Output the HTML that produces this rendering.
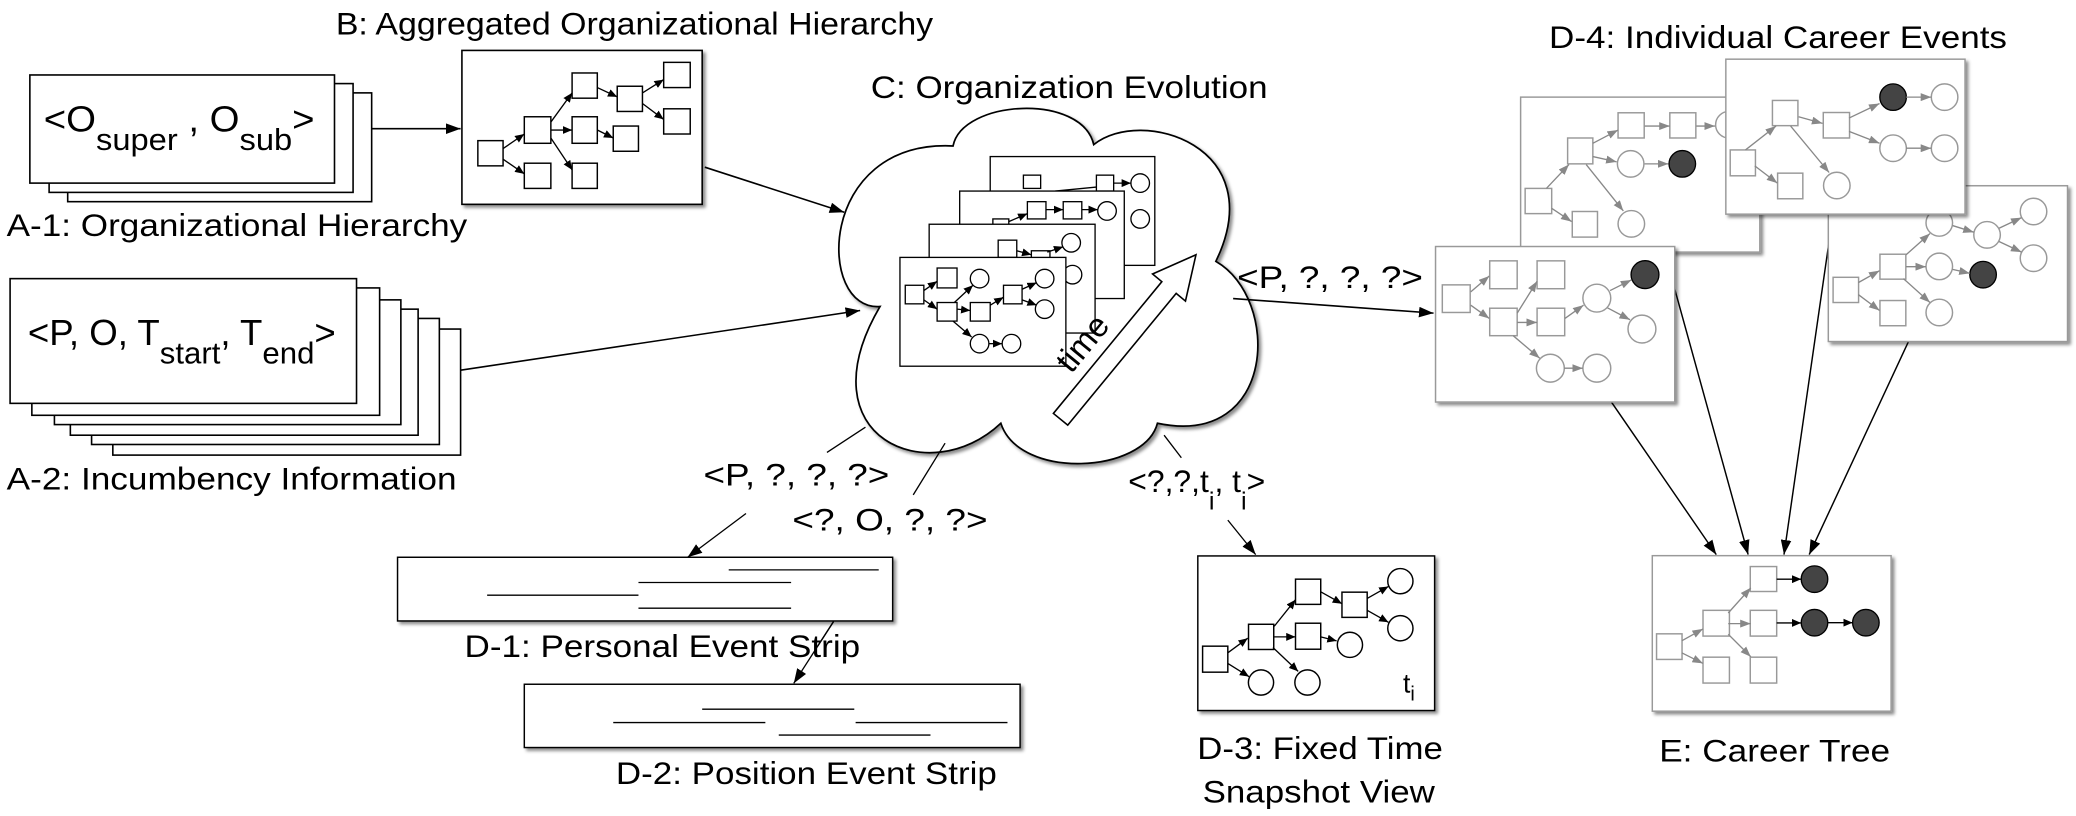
<!DOCTYPE html>
<html><head><meta charset="utf-8"><style>
html,body{margin:0;padding:0;background:#fff;}
svg{display:block;}
text{font-family:"Liberation Sans",Arial,sans-serif;fill:#000;}
</style></head><body>
<svg width="2076" height="816" viewBox="0 0 1564 615" preserveAspectRatio="none" xmlns="http://www.w3.org/2000/svg">
<defs>
<marker id="ab" markerUnits="userSpaceOnUse" markerWidth="12" markerHeight="8" refX="11" refY="4" orient="auto"><path d="M0,0 L11,4 L0,8 z" fill="#000"/></marker>
<marker id="as" markerUnits="userSpaceOnUse" markerWidth="7" markerHeight="6" refX="7" refY="3" orient="auto"><path d="M0,0 L7,3 L0,6 z" fill="#000"/></marker>
<marker id="ag" markerUnits="userSpaceOnUse" markerWidth="8" markerHeight="6" refX="8" refY="3" orient="auto"><path d="M0,0 L8,3 L0,6 z" fill="#888"/></marker>
<filter id="sh" x="-10%" y="-10%" width="130%" height="130%"><feDropShadow dx="2" dy="2" stdDeviation="1.2" flood-color="#000" flood-opacity="0.45"/></filter>
</defs>

<text x="253" y="26" font-size="24" textLength="450" lengthAdjust="spacingAndGlyphs">B: Aggregated Organizational Hierarchy</text>
<text x="5" y="178" font-size="24" textLength="347" lengthAdjust="spacingAndGlyphs">A-1: Organizational Hierarchy</text>
<text x="5" y="369" font-size="24" textLength="339" lengthAdjust="spacingAndGlyphs">A-2: Incumbency Information</text>
<text x="656" y="74" font-size="24" textLength="299" lengthAdjust="spacingAndGlyphs">C: Organization Evolution</text>
<text x="1167" y="36" font-size="24" textLength="345" lengthAdjust="spacingAndGlyphs">D-4: Individual Career Events</text>
<text x="932" y="217" font-size="24" textLength="140" lengthAdjust="spacingAndGlyphs">&lt;P, ?, ?, ?&gt;</text>
<text x="530" y="366" font-size="24" textLength="140" lengthAdjust="spacingAndGlyphs">&lt;P, ?, ?, ?&gt;</text>
<text x="597" y="400" font-size="24" textLength="147" lengthAdjust="spacingAndGlyphs">&lt;?, O, ?, ?&gt;</text>
<text x="850" y="371" font-size="24">&lt;?,?,t<tspan font-size="19" dy="13">i</tspan><tspan dy="-13">,</tspan> t<tspan font-size="19" dy="13">i</tspan><tspan dy="-13">&gt;</tspan></text>
<text x="350" y="495" font-size="24" textLength="298" lengthAdjust="spacingAndGlyphs">D-1: Personal Event Strip</text>
<text x="464" y="591" font-size="24" textLength="287" lengthAdjust="spacingAndGlyphs">D-2: Position Event Strip</text>
<text x="902" y="572" font-size="24" textLength="185" lengthAdjust="spacingAndGlyphs">D-3: Fixed Time</text>
<text x="906" y="605" font-size="24" textLength="175" lengthAdjust="spacingAndGlyphs">Snapshot View</text>
<text x="1250" y="574" font-size="24" textLength="174" lengthAdjust="spacingAndGlyphs">E: Career Tree</text>

<g fill="#fff" stroke="#000" stroke-width="1.2">
<rect x="51" y="70" width="229" height="82"/>
<rect x="37" y="63" width="229" height="82"/>
<rect x="22.5" y="56.5" width="229.5" height="81.5"/>
</g>
<text x="33" y="99" font-size="27" textLength="204" lengthAdjust="spacingAndGlyphs">&lt;O<tspan font-size="23" dy="14">super</tspan><tspan dy="-14"> , O</tspan><tspan font-size="23" dy="14">sub</tspan><tspan dy="-14">&gt;</tspan></text>
<line x1="280" y1="97" x2="347" y2="97" stroke="#000" stroke-width="1.2" marker-end="url(#ab)"/>

<g fill="#fff" stroke="#000" stroke-width="1.2">
<rect x="85" y="248" width="262" height="95"/>
<rect x="69" y="240" width="262" height="95"/>
<rect x="53" y="233" width="262" height="95"/>
<rect x="41" y="226" width="261" height="94"/>
<rect x="24" y="217" width="262" height="96"/>
<rect x="7.6" y="210" width="261" height="94"/>
</g>
<text x="21" y="260" font-size="27" textLength="232" lengthAdjust="spacingAndGlyphs">&lt;P, O, T<tspan font-size="23" dy="14">start</tspan><tspan dy="-14">, T</tspan><tspan font-size="23" dy="14">end</tspan><tspan dy="-14">&gt;</tspan></text>
<line x1="347" y1="279" x2="648" y2="234" stroke="#000" stroke-width="1.2" marker-end="url(#ab)"/>

<rect x="348" y="38" width="181" height="116" fill="#fff" stroke="#000" stroke-width="1.2" filter="url(#sh)"/>
<g fill="#fff" stroke="#000" stroke-width="1.1">
<rect x="360" y="106" width="19" height="19"/><rect x="395" y="88" width="20" height="20"/><rect x="395" y="123" width="20" height="19"/>
<rect x="431" y="55" width="19" height="19"/><rect x="431" y="88" width="19" height="20"/><rect x="431" y="123" width="19" height="19"/>
<rect x="465" y="65" width="19" height="19"/><rect x="462" y="95" width="19" height="19"/><rect x="500" y="47" width="20" height="19"/><rect x="500" y="82" width="20" height="19"/>
</g>
<g stroke="#000" stroke-width="1" marker-end="url(#as)">
<line x1="379" y1="112" x2="395" y2="101"/><line x1="379" y1="120" x2="395" y2="131"/>
<line x1="415" y1="92" x2="431" y2="70"/><line x1="415" y1="98" x2="431" y2="98"/><line x1="415" y1="104" x2="431" y2="128"/>
<line x1="450" y1="66" x2="465" y2="73"/><line x1="450" y1="98" x2="462" y2="104"/>
<line x1="484" y1="70" x2="500" y2="60"/><line x1="484" y1="78" x2="500" y2="90"/>
</g>
<line x1="531" y1="126" x2="636" y2="160" stroke="#000" stroke-width="1.2" marker-end="url(#ab)"/>

<path d="M663,231 C615,235 615,105 718,110 C725,75 815,70 824,109 C860,80 958,110 916,197 C965,225 962,338 872,319 C862,357 768,362 754,319 C700,370 605,330 663,231 Z" fill="#fff" stroke="#000" stroke-width="1.3" filter="url(#sh)"/>

<line x1="929" y1="225" x2="1080" y2="236" stroke="#000" stroke-width="1.2" marker-end="url(#ab)"/>
<line x1="652" y1="322" x2="623" y2="341" stroke="#000" stroke-width="1"/>
<line x1="712" y1="334" x2="688" y2="373" stroke="#000" stroke-width="1"/>
<line x1="562" y1="387" x2="518" y2="420" stroke="#000" stroke-width="1" marker-end="url(#ab)"/>
<line x1="877" y1="328" x2="890" y2="345" stroke="#000" stroke-width="1"/>
<line x1="925" y1="392" x2="946" y2="418" stroke="#000" stroke-width="1" marker-end="url(#ab)"/>

<g stroke="#000" stroke-width="1">
<rect x="746" y="118" width="124" height="82" fill="#fff"/>
<rect x="771" y="132" width="13" height="10" fill="#fff"/><rect x="826" y="132" width="13" height="12" fill="#fff"/>
<circle cx="859" cy="138" r="7" fill="#fff"/><circle cx="859" cy="165" r="7" fill="#fff"/>
<line x1="839" y1="138" x2="852" y2="138" marker-end="url(#as)"/><line x1="795" y1="144" x2="826" y2="141"/>

<rect x="723" y="144" width="124" height="81" fill="#fff"/>
<rect x="748" y="165" width="12" height="10" fill="#fff"/>
<rect x="774" y="152" width="14" height="13" fill="#fff"/><rect x="801" y="152" width="14" height="13" fill="#fff"/>
<circle cx="834" cy="159" r="7" fill="#fff"/>
<line x1="760" y1="167" x2="774" y2="161" marker-end="url(#as)"/><line x1="788" y1="158" x2="801" y2="158" marker-end="url(#as)"/><line x1="815" y1="158" x2="827" y2="158" marker-end="url(#as)"/>

<rect x="700" y="169" width="125" height="82" fill="#fff"/>
<rect x="752" y="181" width="14" height="13" fill="#fff"/><rect x="777" y="189" width="14" height="10" fill="#fff"/>
<circle cx="807" cy="183" r="7" fill="#fff"/><circle cx="808" cy="207" r="7" fill="#fff"/>
<line x1="766" y1="189" x2="777" y2="192" marker-end="url(#as)"/><line x1="789" y1="190" x2="801" y2="186" marker-end="url(#as)"/>

<rect x="678" y="194" width="125" height="82" fill="#fff"/>
<rect x="682" y="215" width="14" height="14" fill="#fff"/><rect x="706" y="202" width="15" height="15" fill="#fff"/>
<rect x="706" y="228" width="15" height="14" fill="#fff"/><rect x="731" y="228" width="15" height="14" fill="#fff"/>
<rect x="756" y="215" width="14" height="14" fill="#fff"/>
<circle cx="738" cy="210" r="7" fill="#fff"/><circle cx="787" cy="210" r="7" fill="#fff"/><circle cx="787" cy="233" r="7" fill="#fff"/>
<circle cx="738" cy="259" r="7" fill="#fff"/><circle cx="762" cy="259" r="7" fill="#fff"/>
<g marker-end="url(#as)">
<line x1="696" y1="219" x2="706" y2="212"/><line x1="696" y1="226" x2="706" y2="233"/>
<line x1="721" y1="233" x2="731" y2="234"/><line x1="719" y1="228" x2="733" y2="215"/><line x1="718" y1="242" x2="732" y2="254"/>
<line x1="746" y1="230" x2="756" y2="224"/><line x1="770" y1="218" x2="781" y2="213"/><line x1="770" y1="226" x2="781" y2="230"/>
<line x1="745" y1="259" x2="755" y2="259"/>
</g>
</g>

<polygon points="793.6,311.6 875.3,212.3 868.3,206.5 901,192 893.1,226.9 886.1,221.1 804.4,320.4" fill="#fff" stroke="#000" stroke-width="1.2"/>
<text x="822" y="264" font-size="25" text-anchor="middle" transform="rotate(-50.6 822 264)">time</text>

<rect x="299.5" y="420" width="373" height="48" fill="#fff" stroke="#000" stroke-width="1.1" filter="url(#sh)"/>
<g stroke="#000" stroke-width="1">
<line x1="549" y1="429.5" x2="662" y2="429.5"/><line x1="481" y1="439" x2="596" y2="439"/>
<line x1="367" y1="448.6" x2="481" y2="448.6"/><line x1="481" y1="458.4" x2="596" y2="458.4"/>
</g>
<line x1="628" y1="468.4" x2="598" y2="515" stroke="#000" stroke-width="1" marker-end="url(#ab)"/>
<rect x="395" y="515.7" width="373.5" height="47.7" fill="#fff" stroke="#000" stroke-width="1.1" filter="url(#sh)"/>
<g stroke="#000" stroke-width="1">
<line x1="529" y1="534.5" x2="643.6" y2="534.5"/><line x1="462" y1="544.6" x2="576.6" y2="544.6"/>
<line x1="644.6" y1="544.6" x2="759" y2="544.6"/><line x1="586.7" y1="554" x2="701" y2="554"/>
</g>
<line x1="628" y1="468.4" x2="616" y2="487" stroke="#000" stroke-width="1"/>

<rect x="902.4" y="419" width="178.4" height="116.5" fill="#fff" stroke="#000" stroke-width="1.1" filter="url(#sh)"/>
<g fill="#fff" stroke="#000" stroke-width="1.1">
<rect x="906" y="487" width="19" height="19.6"/><rect x="940.6" y="470.5" width="19" height="19"/>
<rect x="976" y="436.5" width="19" height="19"/><rect x="976" y="469.7" width="19" height="19.6"/><rect x="1011" y="446.3" width="19" height="19"/>
<circle cx="950" cy="514.4" r="9.5"/><circle cx="985" cy="514.4" r="9.5"/><circle cx="1017" cy="486" r="9.5"/>
<circle cx="1055" cy="438" r="9.5"/><circle cx="1055" cy="473.5" r="9.5"/>
</g>
<g stroke="#000" stroke-width="1" marker-end="url(#as)">
<line x1="925" y1="492" x2="940" y2="481"/><line x1="925" y1="500" x2="941" y2="510"/>
<line x1="960" y1="472" x2="976" y2="452"/><line x1="960" y1="480" x2="976" y2="480"/><line x1="959" y1="488" x2="978" y2="506"/>
<line x1="995" y1="446" x2="1011" y2="455"/><line x1="995" y1="480" x2="1007" y2="483"/>
<line x1="1030" y1="451" x2="1046" y2="442"/><line x1="1030" y1="460" x2="1046" y2="469"/>
</g>
<text x="1057" y="522" font-size="20">t<tspan font-size="15" dy="6">i</tspan></text>

<g stroke="#000" stroke-width="1.1" marker-end="url(#ab)">
<line x1="1254" y1="190" x2="1317" y2="418"/>
<line x1="1381" y1="161" x2="1344" y2="418"/>
<line x1="1438" y1="257" x2="1363" y2="418"/>
<line x1="1214" y1="303" x2="1293" y2="418"/>
</g>

<rect x="1145.6" y="73.2" width="180.2" height="116.8" fill="#fff" stroke="#999" stroke-width="1.1" filter="url(#sh)"/>
<g fill="#fff" stroke="#999" stroke-width="1.1">
<rect x="1149" y="142" width="20" height="19"/><rect x="1181" y="104" width="19" height="19.5"/><rect x="1184.5" y="159.4" width="19" height="19.3"/>
<rect x="1219" y="85" width="19.7" height="19"/><rect x="1258" y="85" width="19.6" height="19"/>
<circle cx="1228.5" cy="123.5" r="10"/><circle cx="1229" cy="168.7" r="10"/><circle cx="1302.5" cy="94" r="10"/>
</g>
<circle cx="1267.4" cy="123.5" r="10" fill="#444" stroke="#000" stroke-width="1"/>
<g stroke="#888" stroke-width="1" marker-end="url(#ag)">
<line x1="1165" y1="142" x2="1182" y2="124"/><line x1="1169" y1="157" x2="1184" y2="167"/>
<line x1="1200" y1="108" x2="1219" y2="98"/><line x1="1200" y1="118" x2="1218" y2="122"/><line x1="1195" y1="124" x2="1223" y2="159"/>
<line x1="1239" y1="95" x2="1258" y2="95"/><line x1="1278" y1="95" x2="1292" y2="95"/><line x1="1239" y1="123.5" x2="1257" y2="123.5"/>
</g>

<rect x="1377.4" y="140" width="180.2" height="117.4" fill="#fff" stroke="#999" stroke-width="1.1" filter="url(#sh)"/>
<g fill="#fff" stroke="#999" stroke-width="1.1">
<rect x="1381" y="209" width="19.2" height="19"/><rect x="1416.3" y="191.6" width="19.5" height="18.8"/><rect x="1416.3" y="226.5" width="19.5" height="19"/>
<circle cx="1461" cy="168" r="10"/><circle cx="1497" cy="177" r="10"/><circle cx="1532" cy="159.4" r="10"/><circle cx="1532" cy="194.6" r="10"/>
<circle cx="1461" cy="200.8" r="10"/><circle cx="1461" cy="235.5" r="10"/>
</g>
<circle cx="1494" cy="207" r="10" fill="#444" stroke="#000" stroke-width="1"/>
<g stroke="#888" stroke-width="1" marker-end="url(#ag)">
<line x1="1400" y1="213" x2="1416" y2="204"/><line x1="1400" y1="222" x2="1416" y2="234"/>
<line x1="1436" y1="192" x2="1454" y2="176"/><line x1="1436" y1="201" x2="1451" y2="201"/><line x1="1434" y1="210" x2="1454" y2="228"/>
<line x1="1471" y1="170" x2="1487" y2="175"/><line x1="1506" y1="172" x2="1523" y2="164"/><line x1="1506" y1="182" x2="1523" y2="190"/>
<line x1="1471" y1="203" x2="1484" y2="206"/>
</g>

<rect x="1300.2" y="44.6" width="180.2" height="116.8" fill="#fff" stroke="#999" stroke-width="1.1" filter="url(#sh)"/>
<g fill="#fff" stroke="#999" stroke-width="1.1">
<rect x="1303.5" y="113" width="19" height="19.5"/><rect x="1335.3" y="75.7" width="19.2" height="19"/>
<rect x="1373.6" y="84.8" width="19.8" height="19.2"/><rect x="1339.2" y="130.5" width="19" height="19.3"/>
<circle cx="1465" cy="73.2" r="10"/><circle cx="1426.2" cy="111.7" r="10"/><circle cx="1465" cy="111.7" r="10"/><circle cx="1383.8" cy="139.8" r="10"/>
</g>
<circle cx="1426.2" cy="73.2" r="10" fill="#444" stroke="#000" stroke-width="1"/>
<g stroke="#888" stroke-width="1" marker-end="url(#ag)">
<line x1="1315" y1="113" x2="1338" y2="95"/><line x1="1322" y1="125" x2="1339" y2="138"/>
<line x1="1355" y1="88" x2="1373" y2="93"/><line x1="1349" y1="95" x2="1378" y2="130"/>
<line x1="1393" y1="89" x2="1416" y2="78"/><line x1="1393" y1="99" x2="1416" y2="108"/>
<line x1="1436" y1="73.2" x2="1455" y2="73.2"/><line x1="1436" y1="111.7" x2="1455" y2="111.7"/>
</g>

<rect x="1081.5" y="185.8" width="180.2" height="117.2" fill="#fff" stroke="#999" stroke-width="1.1" filter="url(#sh)"/>
<g fill="#fff" stroke="#999" stroke-width="1.1">
<rect x="1086.6" y="214.7" width="21" height="20.8"/><rect x="1122.3" y="196.6" width="20.7" height="21"/>
<rect x="1158" y="196.6" width="20.8" height="21"/><rect x="1122.3" y="232.3" width="20.7" height="20.7"/><rect x="1158" y="232.3" width="20.8" height="20.7"/>
<circle cx="1203" cy="224.7" r="10.5"/><circle cx="1237" cy="248" r="10.5"/><circle cx="1168" cy="277.5" r="10.5"/><circle cx="1203" cy="277.5" r="10.5"/>
</g>
<circle cx="1239.3" cy="207" r="10.5" fill="#444" stroke="#000" stroke-width="1"/>
<g stroke="#888" stroke-width="1" marker-end="url(#ag)">
<line x1="1108" y1="220" x2="1122" y2="208"/><line x1="1108" y1="230" x2="1122" y2="240"/>
<line x1="1143" y1="236" x2="1158" y2="212"/><line x1="1143" y1="243" x2="1158" y2="243"/><line x1="1140" y1="253" x2="1160" y2="270"/>
<line x1="1179" y1="240" x2="1193" y2="230"/><line x1="1213" y1="219" x2="1229" y2="211"/><line x1="1211" y1="232" x2="1228" y2="241"/>
<line x1="1178.5" y1="277.5" x2="1192.5" y2="277.5"/>
</g>

<rect x="1244.8" y="418.8" width="179.9" height="117.2" fill="#fff" stroke="#999" stroke-width="1.1" filter="url(#sh)"/>
<g fill="#fff" stroke="#999" stroke-width="1.1">
<rect x="1248" y="477.7" width="19.2" height="19.3"/><rect x="1283" y="460" width="19.9" height="19.4"/><rect x="1283" y="495.3" width="19.9" height="19.5"/>
<rect x="1318.6" y="427" width="19.9" height="18.8"/><rect x="1318.6" y="460" width="19.9" height="19.4"/><rect x="1318.6" y="495.3" width="19.9" height="19.5"/>
</g>
<g fill="#444" stroke="#000" stroke-width="1">
<circle cx="1367" cy="436.5" r="10"/><circle cx="1367" cy="469.3" r="10"/><circle cx="1405.7" cy="469.3" r="10"/>
</g>
<g stroke="#888" stroke-width="1" marker-end="url(#ag)">
<line x1="1267" y1="483" x2="1283" y2="474"/><line x1="1267" y1="492" x2="1283" y2="500"/>
<line x1="1302" y1="462" x2="1319" y2="443"/><line x1="1302" y1="470" x2="1319" y2="470"/><line x1="1302" y1="478" x2="1319" y2="495"/>
</g>
<g stroke="#000" stroke-width="1" marker-end="url(#as)">
<line x1="1338.5" y1="436.5" x2="1357" y2="436.5"/><line x1="1338.5" y1="469.5" x2="1357" y2="469.5"/><line x1="1377" y1="469.3" x2="1395.7" y2="469.3"/>
</g>
</svg>
</body></html>
